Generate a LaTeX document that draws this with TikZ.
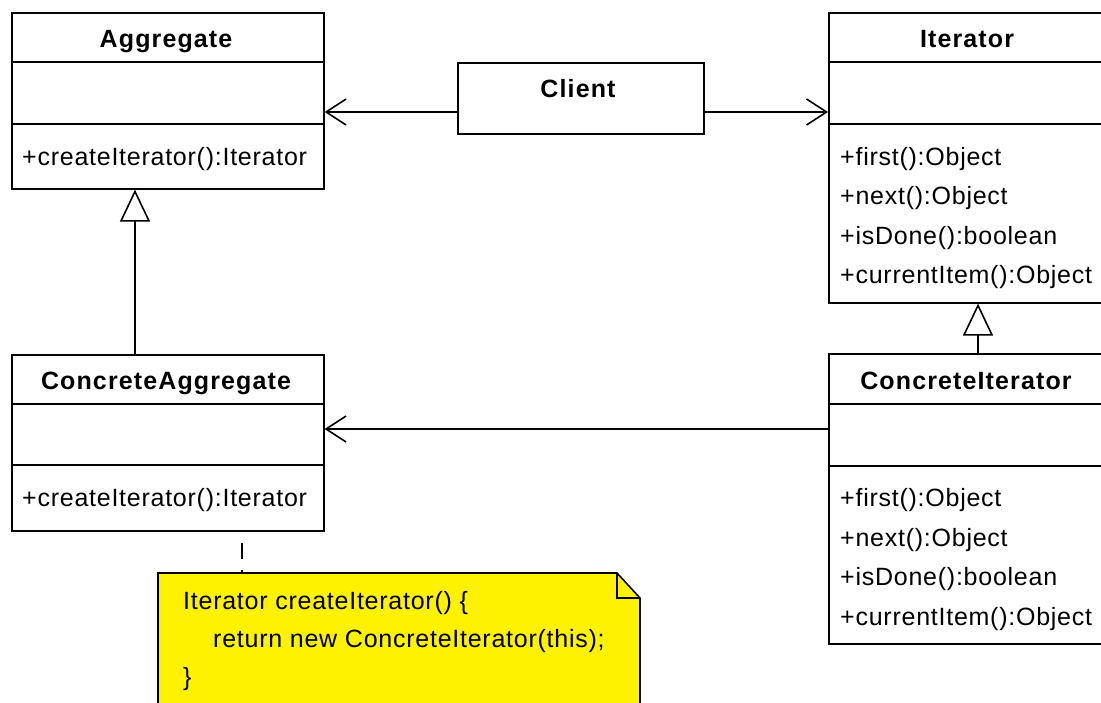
\documentclass[tikz,border=0pt]{standalone}
\usepackage{fontspec}
\setmainfont{Liberation Sans}
\newfontfamily\opfont[LetterSpace=3]{Liberation Sans}
\newfontfamily\titlefont[LetterSpace=4.5]{Liberation Sans}
\usetikzlibrary{arrows.meta}
\begin{document}
\begin{tikzpicture}[x=1pt,y=-1pt,
  box/.style={draw=black, line width=1.6pt, fill=white, inner sep=0pt, anchor=north west},
  sep/.style={line width=1.6pt},
  title/.style={font=\titlefont\fontsize{25}{30}\selectfont\bfseries, anchor=base, inner sep=0pt},
  op/.style={font=\opfont\fontsize{25}{28}\selectfont, anchor=base west, inner sep=0pt},
  notetext/.style={font=\opfont\fontsize{25}{28}\selectfont, anchor=base west, inner sep=0pt},
  assoc/.style={line width=1.6pt, -{Straight Barb[length=20pt,width=26pt,line width=1.6pt]}},
  gen/.style={line width=1.6pt, -{Triangle[open,length=32pt,width=30pt,line width=1.6pt,fill=white]}},
  notelink/.style={line width=1.6pt, dash pattern=on 16pt off 11pt, dash phase=16pt},
]
\clip (0,0) rectangle (1101,702);
\fill[white] (0,0) rectangle (1101,702);

% Aggregate
\node[box, minimum width=312pt, minimum height=176pt] (agg) at (11,12) {};
\draw[sep] (11,62) -- (323,62);
\draw[sep] (11,124) -- (323,124);
\node[title] (aggT) at (166,47) {Aggregate};
\node[op] (aggM) at (22,165) {+createIterator():Iterator};

% Client
\node[box, minimum width=246pt, minimum height=71pt] (client) at (457,62) {};
\node[title] (clientT) at (578,97) {Client};

% Iterator
\node[box, minimum width=290pt, minimum height=290pt] (it) at (828,12) {};
\draw[sep] (828,62) -- (1118,62);
\draw[sep] (828,124) -- (1118,124);
\node[title] (itT) at (967,47) {Iterator};
\node[op] (it1) at (840,165) {+first():Object};
\node[op] (it2) at (840,204) {+next():Object};
\node[op] (it3) at (840,244) {+isDone():boolean};
\node[op] (it4) at (840,283) {+currentItem():Object};

% ConcreteAggregate
\node[box, minimum width=312pt, minimum height=176pt] (cagg) at (11,354) {};
\draw[sep] (11,404) -- (323,404);
\draw[sep] (11,465) -- (323,465);
\node[title] (caggT) at (166,389) {ConcreteAggregate};
\node[op] (caggM) at (22,506) {+createIterator():Iterator};

% ConcreteIterator
\node[box, minimum width=290pt, minimum height=290pt] (citer) at (828,353) {};
\draw[sep] (828,404) -- (1118,404);
\draw[sep] (828,466) -- (1118,466);
\node[title] (citerT) at (966,389) {ConcreteIterator};
\node[op] (ci1) at (840,506) {+first():Object};
\node[op] (ci2) at (840,546) {+next():Object};
\node[op] (ci3) at (840,585) {+isDone():boolean};
\node[op] (ci4) at (840,625) {+currentItem():Object};

% Note
\node[anchor=north west, minimum width=482pt, minimum height=140pt, inner sep=0pt] (note) at (158,573) {};
\filldraw[fill=yellow, line width=1.6pt] (158,573) -- (617,573) -- (640,598) -- (640,720) -- (158,720) -- cycle;
\draw[line width=1.6pt] (617,573) -- (617,598) -- (640,598);
\node[notetext] (n1) at (183,609) {Iterator createIterator() \{};
\node[notetext] (n2) at (213,647) {return new ConcreteIterator(this);};
\node[notetext] (n3) at (183,685) {\}};

% Connectors
\coordinate (ca) at (457,112);
\coordinate (ci) at (703,112);
\draw[assoc] (ca) -- (ca -| agg.east);
\draw[assoc] (ci) -- (ci -| it.west);
\coordinate (cc) at (0,429);
\draw[assoc] (cc -| citer.west) -- (cc -| cagg.east);
\coordinate (g1) at (135,0);
\draw[gen] (g1 |- cagg.north) -- (g1 |- agg.south);
\coordinate (g2) at (978,0);
\draw[gen] (g2 |- citer.north) -- (g2 |- it.south);
\coordinate (g3) at (242,0);
\draw[notelink] (g3 |- cagg.south) -- (g3 |- note.north);
\end{tikzpicture}
\end{document}
